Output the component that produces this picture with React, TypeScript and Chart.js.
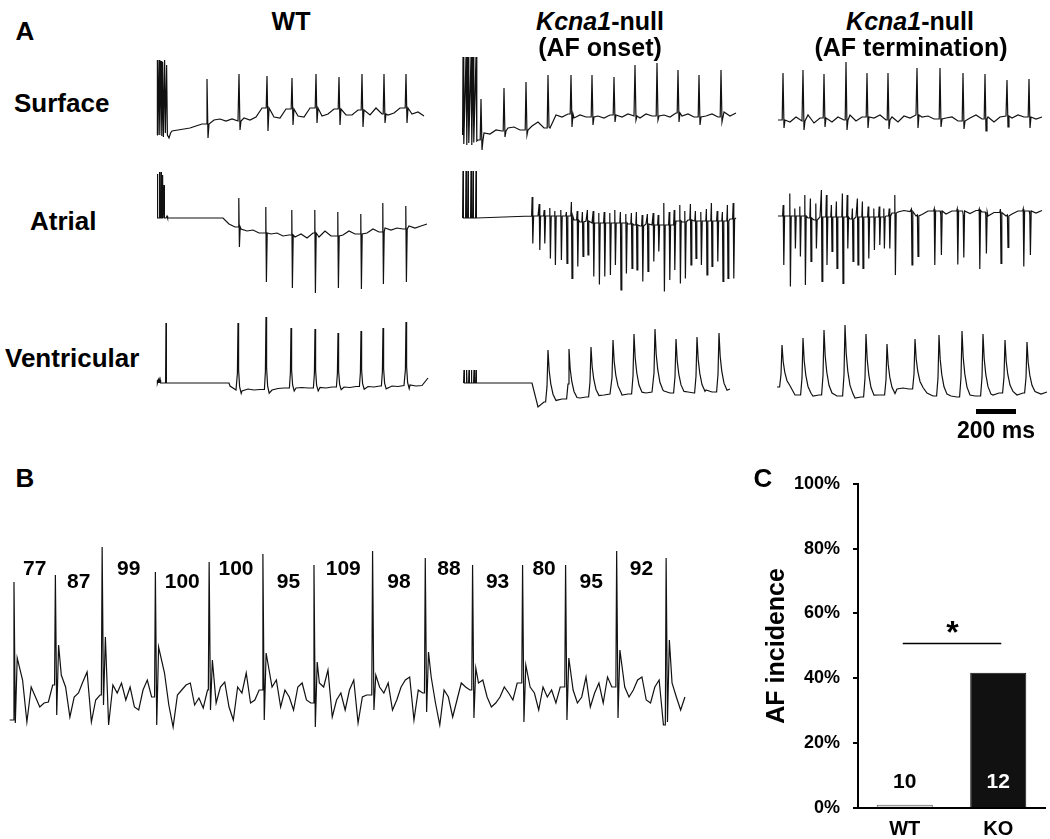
import React, { useEffect, useRef } from "react";
import { Chart, registerables } from "chart.js";

Chart.register(...registerables);

const FONT = '"Liberation Sans", Arial, Helvetica, sans-serif';
const INK = "#111";

type Pair = [number, number];
type Level = "b" | "p" | "t" | "s" | number;
type Shape = [number, Level][];

// ================= Panel A (time in ms, amplitude in µV) =================
// ---- Surface lead, WT
const surfWtStim: Pair[] = [[35, -300], [37, 1200], [40, -300], [45, 1200], [49, -300], [55, 1180], [59, -320], [63, 1160], [67, -340], [73, 1200], [77, -260], [83, 1100], [87, -300], [95, -360], [103, -260]];
const surfWtBase = [-220, -200, -180, -160, -120, -80, -20, 0, 20, -20, 20, -20, 40, 0, 60, 240, 40, 60, 40, 220, 40, 80, 60, 240, 60, 80, 120, 220, 80, 100, 100, 200, 80, 100, 240, 120, 100, 140, 240, 140, 120, 160, 80]; // every 30 ms from 110 ms
const surfWtBeatT = [285, 445, 585, 710, 830, 945, 1060, 1170, 1280];
const surfWtPeak = [820, 920, 880, 840, 920, 860, 920, 920, 920];
const surfWtTrough = [-360, -200, -220, -100, -60, -100, -140, -60, -60];

// ---- Surface lead, Kcna1-null AF onset
const surfOnStim: Pair[] = [[38, -300], [40, 1260], [44, -480], [55, 1260], [59, -500], [65, 1260], [69, -460], [80, 1260], [84, -500], [90, 1260], [94, -450], [105, 1260], [109, -420]];
const surfOnBase = [-400, -260, -280, -200, -220, -160, -140, -200, -80, -120, -40, -160, 160, 100, 60, 120, 40, 100, 60, 140, 80, 40, 100, 140, 60, 120, 80, 40, 120, 80, 160, 100, 60, 140, 80, 120, 60, 140, 80, 120, 60, 160, 80, 140]; // every 30 ms from 115 ms
const surfOnBeatT = [130, 245, 355, 465, 580, 685, 795, 900, 1010, 1115, 1220, 1330];
const surfOnPeak = [420, 640, 760, 900, 900, 900, 860, 1100, 1140, 1000, 900, 1000];
const surfOnTrough = [-600, -340, -300, -140, -140, -100, -40, 0, 0, -40, -100, -40];

// ---- Surface lead, Kcna1-null AF termination
const surfEndBase = [0, 80, -40, 60, -20, 100, -60, 40, 80, -40, 60, 0, 100, -20, 60, -60, 40, 100, 0, 60, -40, 80, 40, 100, 60, 80, 20, 100, 40, 60, -20, 80, 40, 100, 20, 60, -40, 60, 80, 40, 100, 60, 80, 20, 60]; // every 30 ms from 40 ms
const surfEndBeatT = [65, 165, 270, 380, 485, 590, 735, 850, 965, 1075, 1185, 1295];
const surfEndPeak = [940, 1000, 920, 1160, 940, 940, 1040, 1040, 940, 920, 800, 820];
const surfEndTrough = [-160, -200, -140, -200, -160, -180, -160, -140, -180, -220, -140, -160];

// ---- Atrial, WT
const atrWtStim: Pair[] = [[35, 0], [37, 880], [39, 0], [45, 0], [47, 920], [49, 0], [53, 0], [55, 920], [57, 0], [61, 0], [63, 860], [65, 0], [68, 0], [70, 660], [72, 0], [80, 0], [85, 40], [88, 0]];
const atrWtBase = [0, -120, -180, -220, -260, -240, -300, -280, -320, -300, -360, -340, -380, -320, -400, -300, -380, -260, -360, -280, -340, -260, -320, -280, -300, -220, -280, -200, -240, -200, -220, -160, -200, -160, -120]; // every 30 ms from 365 ms
const atrWtBeatT = [445, 580, 710, 825, 940, 1055, 1165, 1280];
const atrWtUp = [400, 220, 160, 160, 120, 80, 300, 240];
const atrWtDown = [-580, -1280, -1400, -1500, -1400, -1420, -1320, -1280];

// ---- Atrial, Kcna1-null AF onset
const atrOnStim: Pair[] = [[38, 0], [40, 940], [42, 0], [53, 0], [55, 940], [57, 0], [63, 0], [65, 940], [67, 0], [78, 0], [80, 940], [82, 0], [88, 0], [90, 940], [92, 0], [103, 0], [105, 940], [107, 0]];
const atrOnBase = [0, 40, 20, -20, -40, -20, -60, -40, -80, -60, -100, -80, -100, -120, -100, -140, -120, -140, -160, -120, -140, -100, -80, -100, -60, -80, -40, -60, -40, -20, -40, -20, 0, -20, 0]; // every 30 ms from 385 ms
const atrOnBeatT = [387, 422, 447, 475, 500, 530, 558, 583, 612, 638, 663, 692, 720, 747, 775, 800, 828, 855, 883, 908, 937, 963, 992, 1017, 1045, 1072, 1097, 1125, 1150, 1178, 1203, 1230, 1258, 1283, 1312, 1338, 1363, 1392];
const atrOnUp = [420, 280, 160, 200, 140, 160, 120, 320, 140, 120, 160, 140, 100, 120, 100, 160, 120, 80, 100, 120, 60, 80, 100, 60, 300, 120, 160, 260, 140, 280, 140, 120, 180, 300, 140, 120, 260, 300];
const atrOnDown = [-510, -640, -510, -810, -940, -840, -910, -1210, -970, -770, -740, -1170, -1330, -1170, -1140, -940, -1440, -1110, -1010, -1040, -1270, -1070, -870, -670, -1470, -1240, -1040, -1310, -1210, -940, -810, -940, -1140, -970, -870, -1270, -1210, -1210];

// ---- Atrial, Kcna1-null AF termination
const atrEndBase = [40, 0, 60, -20, 40, 0, -40, 20, 60, -20, 0, 40, -20, 20, 60, 0, -40, 20, 40, 100, 120, 150, 130, 40, 70, 140, 140, 40, 80, 140, 150, 40, 90, 150, 120, 40, 110, 140, 40, 80, 140, 130, 30, 100, 150]; // every 30 ms from 40 ms
const atrEndBeatT = [67, 100, 125, 150, 175, 203, 230, 258, 283, 308, 333, 363, 387, 413, 438, 463, 492, 520, 547, 570, 597, 625, 708, 738, 822, 855, 937, 967, 1047, 1080, 1153, 1188, 1267, 1300];
const atrEndUp = [260, 490, 190, 230, 460, 390, 290, 560, 460, 260, 330, 490, 460, 190, 390, 330, 230, 190, 230, 190, 190, 460, 180, 60, 180, 60, 180, 60, 180, 60, 180, 60, 180, 60];
const atrEndDown = [-940, -1370, -610, -770, -1340, -870, -610, -1270, -940, -670, -1010, -1310, -610, -870, -940, -1010, -810, -640, -540, -610, -610, -1140, -940, -770, -940, -740, -930, -790, -1020, -710, -910, -590, -970, -740];

// ---- Ventricular, WT
const venWtStim: Pair[] = [[35, 0], [36, 60], [38, 0], [41, 60], [43, 0], [46, 60], [48, 0], [51, 60], [53, 0], [78, 0], [80, 1200], [82, 0], [395, 0]];
const venWtBase = [-60, -140, -160, -120, -140, -130, -120, -140, -110, -100, -120, -100, -90, -100, -80, -90, -100, -80, -70, -80, -90, -70, -60, -70, -80, -60, -50, -60, -70, -50, -40, -60, -50, 100]; // every 30 ms from 400 ms
const venWtBeatT = [440, 580, 705, 825, 940, 1055, 1165, 1280];
const venWtPeak = [1200, 1320, 1100, 1080, 1000, 1040, 1100, 1220];

// ---- Ventricular, Kcna1-null AF onset
const venOnStim: Pair[] = [[43, 0], [45, 260], [47, 0], [56, 0], [58, 260], [60, 0], [68, 0], [70, 260], [72, 0], [80, 0], [82, 260], [84, 0], [93, 0], [95, 260], [97, 0], [103, 0], [105, 260], [107, 0]];
const venOnBase = [0, -480, -380, -300, -280, -320, -300, -260, -300, -280, -260, -280, -240, -220, -260, -240, -220, -200, -240, -200, -180, -200, -160, -200, -180, -160, -180, -200, -160, -140, -180, -200, -160, -120]; // every 30 ms from 385 ms
const venOnBeatT = [465, 570, 680, 790, 895, 1000, 1105, 1210, 1320];
const venOnPeak = [660, 680, 720, 860, 980, 1080, 880, 920, 1000];

// ---- Ventricular, Kcna1-null AF termination
const venEndBase = [-80, -200, -260, -240, -280, -300, -260, -240, -280, -300, -260, -220, -280, -300, -280, -260, -220, -240, -180, -140, -120, -100, -120, -100, -80, -200, -260, -240, -220, -260, -280, -240, -200, -260, -300, -280, -240, -200, -260, -280, -240, -200, -260, -280, -220, -180]; // every 30 ms from 35 ms
const venEndBeatT = [60, 165, 270, 375, 480, 585, 725, 845, 960, 1065, 1175, 1285];
const venEndPeak = [760, 900, 1060, 1160, 980, 780, 880, 960, 1040, 980, 860, 820];

const scaleBarMs = 200;
const scaleBarStart = 1030;

// ================= Panel B (time in ms, amplitude in mV) =================
const rrIntervals = [77, 87, 99, 100, 100, 95, 109, 98, 88, 93, 80, 95, 92];
const bPeak = [1.18, 1.25, 1.53, 1.28, 1.38, 1.46, 1.35, 1.49, 1.42, 1.35, 1.35, 1.35, 1.49, 1.42];
const bTrough = [-0.23, -0.15, -0.05, -0.25, -0.1, -0.2, -0.27, -0.1, -0.12, -0.18, -0.22, -0.2, -0.18, -0.22];
const bSecond = [0.42, 0.55, 0.63, 0.53, 0.4, 0.47, 0.38, 0.25, 0.48, 0.32, 0.35, 0.42, 0.5, 0.6];
const bBase: Pair[] = [
  [-8, -0.2], [16, 0.2], [24, -0.22], [32, 0.13], [40, 0.03], [48, -0.07], [56, -0.03], [64, -0.02], [72, 0.15],
  [88, 0.25], [96, 0.13], [104, -0.17], [112, 0.03], [120, 0.07], [128, 0.18], [136, 0.28], [144, -0.22], [152, 0.0], [160, 0.05],
  [176, -0.25], [184, 0.15], [192, 0.07], [200, 0.17], [208, 0.0], [216, 0.13], [224, -0.07], [232, -0.1], [240, 0.1], [248, 0.2], [256, 0.03],
  [280, 0.27], [288, -0.05], [296, -0.27], [304, 0.05], [312, 0.1], [320, 0.15], [328, 0.17], [336, -0.05], [344, 0.02], [352, -0.08], [360, 0.1],
  [376, -0.03], [384, 0.13], [392, 0.18], [400, -0.07], [408, -0.2], [416, 0.13], [424, 0.07], [432, 0.27], [440, -0.03], [448, 0.0], [456, 0.1],
  [480, 0.13], [488, 0.2], [496, -0.07], [504, 0.1], [512, 0.03], [520, -0.1], [528, 0.13], [536, 0.17], [544, 0.0], [552, -0.03],
  [568, 0.17], [576, 0.13], [584, 0.3], [592, -0.17], [600, 0.0], [608, 0.07], [616, -0.1], [624, 0.1], [632, 0.2], [640, -0.23], [648, 0.03], [656, 0.05], [664, 0.05],
  [680, 0.13], [688, 0.07], [696, 0.17], [704, -0.1], [712, 0.0], [720, 0.13], [728, 0.2], [736, 0.23], [744, -0.2], [752, 0.1], [760, 0.07],
  [776, 0.23], [784, -0.03], [792, -0.25], [800, 0.1], [808, 0.03], [816, -0.17], [824, 0.0], [832, 0.17], [840, 0.13], [848, 0.1],
  [864, 0.17], [872, 0.2], [880, 0.03], [888, -0.07], [896, -0.03], [904, 0.03], [912, 0.13], [920, 0.07], [928, 0.0], [936, 0.17],
  [960, 0.13], [968, 0.07], [976, -0.1], [984, 0.13], [992, 0.03], [1000, 0.1], [1008, -0.03], [1016, 0.13],
  [1040, 0.1], [1048, -0.03], [1056, 0.03], [1064, 0.23], [1072, -0.07], [1080, 0.07], [1088, 0.17], [1096, -0.03], [1104, 0.23], [1112, 0.13],
  [1136, 0.13], [1144, 0.03], [1152, 0.1], [1160, 0.2], [1168, 0.23], [1176, 0.0], [1184, -0.03], [1192, 0.13], [1200, 0.2], [1208, -0.25],
  [1224, 0.17], [1232, 0.03], [1240, -0.1], [1248, 0.03],
];

// ================= Panel C =================
const afGroups = ["WT", "KO"];
const afIncidence = [1, 41.7];
const afGroupN = [10, 12];
const afTicks = [0, 20, 40, 60, 80, 100];

// ================= helpers =================
function samples(start: number, step: number, values: number[]): Pair[] {
  return values.map((v, i) => [start + i * step, v] as Pair);
}

function buildTrace(o: {
  stim?: Pair[];
  base: Pair[];
  beatT: number[];
  peak: number[];
  trough?: number[];
  second?: number[];
  shape: Shape;
  win: [number, number];
}) {
  const { stim = [], base, beatT, peak, trough = [], second = [], shape, win } = o;
  const keep = base.filter(([t]) => !beatT.some((bt) => t >= bt + win[0] && t <= bt + win[1]));
  const pts: Pair[] = [...stim, ...keep];
  beatT.forEach((bt, i) => {
    let b = keep.length ? keep[0][1] : 0;
    for (const [t, v] of keep) {
      if (t < bt + win[0]) b = v;
      else break;
    }
    const p = peak[i];
    shape.forEach(([dt, lv]) => {
      let v: number;
      if (lv === "b") v = b;
      else if (lv === "p") v = p;
      else if (lv === "t") v = trough[i];
      else if (lv === "s") v = second[i];
      else v = b + (lv as number) * (p - b);
      pts.push([bt + dt, v]);
    });
  });
  pts.sort((a, c) => a[0] - c[0]);
  return pts.map(([x, y]) => ({ x, y }));
}

const surfShape: Shape = [[-4, "b"], [0, "p"], [5, "t"], [10, "b"]];
const atrShape: Shape = [[-4, "b"], [-1, "p"], [2, "t"], [6, "b"]];
const venWtShape: Shape = [[-8, 0], [-3, 0.25], [0, 1], [3, 0.3], [8, 0.05], [16, -0.05]];
const venAfShape: Shape = [[-12, 0], [-5, 0.3], [0, 1], [6, 0.6], [14, 0.35], [25, 0.15], [40, 0.03]];
const bShape: Shape = [[-1.5, "b"], [0, "p"], [2.5, "t"], [6, "s"]];

const UV_PER_PX = 20;
const A_WIDTH = 282;
const MS_PER_PX = 5;
const rows = {
  surface: { top: 50, h: 110, zero: 120 },
  atrial: { top: 160, h: 145, zero: 218 },
  vent: { top: 310, h: 140, zero: 383 },
};
const cols = [150, 455, 770];

function traceConfig(points: { x: number; y: number }[], xmin: number, xmax: number, ymin: number, ymax: number, plugins: any[] = [], width = 1.2): any {
  return {
    type: "line",
    data: {
      datasets: [
        {
          data: points,
          borderColor: INK,
          borderWidth: width,
          pointRadius: 0,
          tension: 0,
          fill: false,
        },
      ],
    },
    options: {
      animation: false,
      responsive: false,
      devicePixelRatio: 1,
      events: [],
      layout: { padding: 0 },
      plugins: { legend: { display: false }, tooltip: { enabled: false } },
      scales: {
        x: { type: "linear", display: false, min: xmin, max: xmax },
        y: { type: "linear", display: false, min: ymin, max: ymax },
      },
    },
    plugins,
  };
}

function ChartBox(props: { make: () => any; left: number; top: number; width: number; height: number }) {
  const ref = useRef<HTMLCanvasElement>(null);
  useEffect(() => {
    const chart = new Chart(ref.current as HTMLCanvasElement, props.make());
    return () => chart.destroy();
  }, []);
  return (
    <div style={{ position: "absolute", left: props.left, top: props.top, width: props.width, height: props.height }}>
      <canvas ref={ref} width={props.width} height={props.height} style={{ width: props.width, height: props.height, display: "block" }} />
    </div>
  );
}

function Txt(props: { x: number; y: number; size: number; children: any; anchor?: "left" | "center" }) {
  const tx = props.anchor === "left" ? "0" : "-50%";
  return (
    <div
      style={{
        position: "absolute",
        left: props.x,
        top: props.y,
        transform: `translate(${tx}, -50%)`,
        fontFamily: FONT,
        fontWeight: "bold",
        fontSize: props.size,
        lineHeight: 1,
        whiteSpace: "nowrap",
        color: "#000",
      }}
    >
      {props.children}
    </div>
  );
}

const scaleBarPlugin = {
  id: "scaleBar",
  afterDatasetsDraw(chart: any) {
    const { ctx, scales } = chart;
    const x1 = scales.x.getPixelForValue(scaleBarStart);
    const x2 = scales.x.getPixelForValue(scaleBarStart + scaleBarMs);
    const y = scales.y.getPixelForValue(-560);
    ctx.save();
    ctx.fillStyle = "#000";
    ctx.fillRect(x1, y - 2, x2 - x1, 5);
    ctx.font = `bold 23px ${FONT}`;
    ctx.textAlign = "center";
    ctx.textBaseline = "middle";
    ctx.fillText(`${scaleBarMs} ms`, (x1 + x2) / 2, scales.y.getPixelForValue(-980));
    ctx.restore();
  },
};

function panelATrace(col: number, row: { top: number; h: number; zero: number }, pts: { x: number; y: number }[], plugins: any[] = []) {
  const ymax = (row.zero - row.top) * UV_PER_PX;
  const ymin = -(row.top + row.h - row.zero) * UV_PER_PX;
  return { left: cols[col], top: row.top, width: A_WIDTH, height: row.h, make: () => traceConfig(pts, 0, A_WIDTH * MS_PER_PX, ymin, ymax, plugins) };
}

// Panel B beat times from RR intervals
const bBeatT = rrIntervals.reduce((acc: number[], rr) => [...acc, acc[acc.length - 1] + rr], [0]);

const rrLabelPlugin = {
  id: "rrLabels",
  afterDatasetsDraw(chart: any) {
    const { ctx, scales } = chart;
    ctx.save();
    ctx.fillStyle = "#000";
    ctx.font = `bold 21px ${FONT}`;
    ctx.textAlign = "center";
    ctx.textBaseline = "middle";
    rrIntervals.forEach((rr, i) => {
      const mid = (bBeatT[i] + bBeatT[i + 1]) / 2;
      const yv = i % 2 === 0 ? 1.31 : 1.18;
      ctx.fillText(String(rr), scales.x.getPixelForValue(mid), scales.y.getPixelForValue(yv));
    });
    ctx.restore();
  },
};

const barAnnotPlugin = {
  id: "barAnnot",
  afterDatasetsDraw(chart: any) {
    const { ctx, scales } = chart;
    const xs = afGroups.map((_, i) => scales.x.getPixelForValue(i));
    ctx.save();
    ctx.font = `bold 21px ${FONT}`;
    ctx.textAlign = "center";
    ctx.textBaseline = "middle";
    const ny = scales.y.getPixelForValue(8);
    afGroupN.forEach((n, i) => {
      ctx.fillStyle = afIncidence[i] > 10 ? "#fff" : "#000";
      ctx.fillText(String(n), xs[i], ny);
    });
    // significance bar
    const ly = Math.round(scales.y.getPixelForValue(51)) + 0.5;
    ctx.strokeStyle = "#000";
    ctx.lineWidth = 1.5;
    ctx.beginPath();
    ctx.moveTo(xs[0] - 2, ly);
    ctx.lineTo(xs[1] + 3, ly);
    ctx.stroke();
    ctx.fillStyle = "#000";
    ctx.font = `bold 32px ${FONT}`;
    ctx.textBaseline = "alphabetic";
    ctx.fillText("*", (xs[0] + xs[1]) / 2 + 1, ly - 1);
    ctx.restore();
  },
};

function barConfig(): any {
  const tickFont = { family: FONT, size: 18, weight: "bold" as const };
  return {
    type: "bar",
    data: {
      labels: afGroups,
      datasets: [
        {
          data: afIncidence,
          backgroundColor: ["#dedede", "#111"],
          borderColor: ["#555", "#111"],
          borderWidth: 1,
          barPercentage: 0.6,
          categoryPercentage: 1,
        },
      ],
    },
    options: {
      animation: false,
      responsive: false,
      devicePixelRatio: 1,
      events: [],
      layout: { padding: { left: 38, top: 23, right: 5, bottom: 0 } },
      plugins: { legend: { display: false }, tooltip: { enabled: false } },
      scales: {
        x: {
          grid: { display: false, drawTicks: false },
          border: { display: true, color: "#000", width: 2 },
          ticks: { color: "#000", font: { family: FONT, size: 20, weight: "bold" }, padding: 9 },
          afterFit: (s: any) => {
            s.height = 31;
          },
        },
        y: {
          min: 0,
          max: 100,
          afterBuildTicks: (s: any) => {
            s.ticks = afTicks.map((v) => ({ value: v }));
          },
          ticks: { color: "#000", font: tickFont, padding: 13, callback: (v: any) => `${v}%` },
          grid: { drawOnChartArea: false, drawTicks: true, tickLength: 5, color: "#000", lineWidth: 2 },
          border: { display: true, color: "#000", width: 2 },
          title: { display: true, text: "AF incidence", color: "#000", font: { family: FONT, size: 25, weight: "bold" }, padding: { top: 4, bottom: 4 } },
          afterFit: (s: any) => {
            s.width = 100;
          },
        },
      },
    },
    plugins: [barAnnotPlugin],
  };
}

export default function App() {
  const traces = [
    panelATrace(0, rows.surface, buildTrace({ stim: surfWtStim, base: samples(110, 30, surfWtBase), beatT: surfWtBeatT, peak: surfWtPeak, trough: surfWtTrough, shape: surfShape, win: [-4, 10] })),
    panelATrace(1, rows.surface, buildTrace({ stim: surfOnStim, base: samples(115, 30, surfOnBase), beatT: surfOnBeatT, peak: surfOnPeak, trough: surfOnTrough, shape: surfShape, win: [-4, 10] })),
    panelATrace(2, rows.surface, buildTrace({ base: samples(40, 30, surfEndBase), beatT: surfEndBeatT, peak: surfEndPeak, trough: surfEndTrough, shape: surfShape, win: [-4, 10] })),
    panelATrace(0, rows.atrial, buildTrace({ stim: atrWtStim, base: samples(365, 30, atrWtBase), beatT: atrWtBeatT, peak: atrWtUp, trough: atrWtDown, shape: atrShape, win: [-5, 7] })),
    panelATrace(1, rows.atrial, buildTrace({ stim: atrOnStim, base: samples(385, 30, atrOnBase), beatT: atrOnBeatT, peak: atrOnUp, trough: atrOnDown, shape: atrShape, win: [-5, 7] })),
    panelATrace(2, rows.atrial, buildTrace({ base: samples(40, 30, atrEndBase), beatT: atrEndBeatT, peak: atrEndUp, trough: atrEndDown, shape: atrShape, win: [-5, 7] })),
    panelATrace(0, rows.vent, buildTrace({ stim: venWtStim, base: samples(400, 30, venWtBase), beatT: venWtBeatT, peak: venWtPeak, shape: venWtShape, win: [-9, 17] })),
    panelATrace(1, rows.vent, buildTrace({ stim: venOnStim, base: samples(385, 30, venOnBase), beatT: venOnBeatT, peak: venOnPeak, shape: venAfShape, win: [-13, 41] })),
    panelATrace(2, rows.vent, buildTrace({ base: samples(35, 30, venEndBase), beatT: venEndBeatT, peak: venEndPeak, shape: venAfShape, win: [-13, 41] }), [scaleBarPlugin]),
  ];
  const bPoints = buildTrace({ base: bBase, beatT: bBeatT, peak: bPeak, trough: bTrough, second: bSecond, shape: bShape, win: [-2, 9] });

  return (
    <div style={{ position: "absolute", left: 0, top: 0, width: 1050, height: 839, overflow: "hidden", background: "#fff" }}>
      {traces.map((t, i) => (
        <ChartBox key={i} {...t} />
      ))}
      <ChartBox left={0} top={540} width={700} height={200} make={() => traceConfig(bPoints, -26, 1276, -0.4, 1.6, [rrLabelPlugin], 1.2)} />
      <ChartBox left={720} top={460} width={330} height={379} make={barConfig} />

      <Txt x={25} y={31} size={26}>A</Txt>
      <Txt x={25} y={478} size={26}>B</Txt>
      <Txt x={763} y={478} size={26}>C</Txt>

      <Txt x={291} y={21} size={25}>WT</Txt>
      <Txt x={600} y={21} size={25}>
        <i>Kcna1</i>-null
      </Txt>
      <Txt x={600} y={47} size={25}>(AF onset)</Txt>
      <Txt x={910} y={21} size={25}>
        <i>Kcna1</i>-null
      </Txt>
      <Txt x={911} y={47} size={25}>(AF termination)</Txt>

      <Txt x={14} y={103} size={26} anchor="left">Surface</Txt>
      <Txt x={30} y={221} size={26} anchor="left">Atrial</Txt>
      <Txt x={5} y={358} size={26} anchor="left">Ventricular</Txt>
    </div>
  );
}
